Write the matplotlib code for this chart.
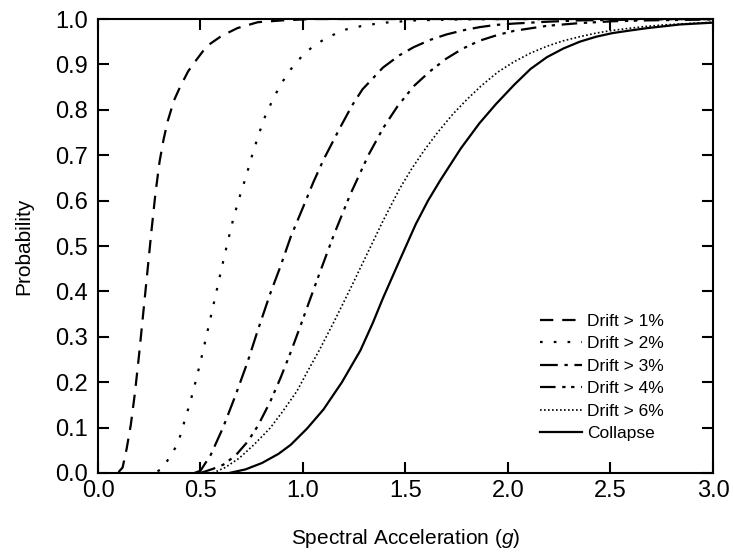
import numpy as np
import matplotlib
matplotlib.use('Agg')
import matplotlib.pyplot as plt

plt.rcParams['font.family'] = ['Liberation Sans', 'DejaVu Sans']
plt.rcParams['mathtext.fontset'] = 'custom'
plt.rcParams['mathtext.it'] = 'Liberation Sans:italic'
plt.rcParams['mathtext.rm'] = 'Liberation Sans'

# values (Sa in g, probability of exceedance)
sa_d1 = [0.10, 0.12, 0.14, 0.16, 0.18, 0.20, 0.22, 0.24, 0.26, 0.28, 0.30, 0.32, 0.34, 0.37, 0.40,
         0.44, 0.48, 0.53, 0.60, 0.68, 0.78, 0.90, 1.05, 3.00]
p_d1 = [0.002, 0.012, 0.054, 0.106, 0.176, 0.259, 0.349, 0.439, 0.53, 0.615, 0.685, 0.735, 0.775, 0.82, 0.85,
        0.885, 0.91, 0.94, 0.962, 0.98, 0.993, 0.997, 1.0, 1.0]

sa_d2 = [0.29, 0.31, 0.35, 0.39, 0.42, 0.45, 0.48, 0.51, 0.54, 0.57, 0.60, 0.63, 0.66, 0.69, 0.72, 0.75,
         0.78, 0.81, 0.85, 0.89, 0.94, 1.00, 1.05, 1.12, 1.21, 1.30, 1.40, 1.55, 1.75, 2.00, 3.00]
p_d2 = [0.004, 0.008, 0.035, 0.065, 0.111, 0.156, 0.208, 0.264, 0.324, 0.384, 0.445, 0.504, 0.56, 0.607, 0.65, 0.697,
        0.74, 0.78, 0.82, 0.855, 0.889, 0.921, 0.94, 0.96, 0.977, 0.986, 0.992, 0.997, 0.999, 1.0, 1.0]

sa_d3 = [0.47, 0.50, 0.55, 0.61, 0.67, 0.73, 0.78, 0.84, 0.89, 0.94, 1.00, 1.05, 1.10, 1.18, 1.24, 1.29,
         1.39, 1.47, 1.54, 1.62, 1.70, 1.78, 1.86, 1.94, 2.03, 2.19, 2.35, 2.51, 2.68, 2.84, 3.00]
p_d3 = [0.0, 0.005, 0.04, 0.10, 0.17, 0.245, 0.315, 0.395, 0.455, 0.52, 0.585, 0.64, 0.69, 0.76, 0.81, 0.845,
        0.893, 0.92, 0.938, 0.954, 0.966, 0.975, 0.982, 0.987, 0.99, 0.994, 0.997, 0.998, 0.999, 1.0, 1.0]

sa_d4 = [0.50, 0.56, 0.61, 0.67, 0.73, 0.78, 0.84, 0.89, 0.94, 0.99, 1.03, 1.08, 1.15, 1.23, 1.32, 1.39,
         1.46, 1.54, 1.62, 1.70, 1.78, 1.86, 1.95, 2.03, 2.19, 2.35, 2.51, 2.68, 2.84, 3.00]
p_d4 = [0.0, 0.009, 0.018, 0.038, 0.069, 0.104, 0.157, 0.209, 0.266, 0.327, 0.377, 0.439, 0.524, 0.613, 0.701, 0.759,
        0.807, 0.852, 0.885, 0.913, 0.935, 0.952, 0.965, 0.974, 0.985, 0.991, 0.995, 0.997, 0.998, 0.999]

sa_d6 = [0.56, 0.62, 0.69, 0.76, 0.84, 0.90, 0.97, 1.02, 1.08, 1.15, 1.23, 1.31, 1.39, 1.47, 1.53, 1.59,
         1.66, 1.73, 1.80, 1.87, 1.95, 2.03, 2.11, 2.19, 2.27, 2.35, 2.43, 2.51, 2.60, 2.68, 2.76, 2.84, 2.92, 3.00]
p_d6 = [0.0, 0.012, 0.033, 0.062, 0.099, 0.135, 0.18, 0.222, 0.271, 0.332, 0.405, 0.48, 0.555, 0.625, 0.67, 0.71,
        0.752, 0.79, 0.823, 0.853, 0.883, 0.906, 0.925, 0.94, 0.952, 0.961, 0.969, 0.975, 0.98, 0.984, 0.987, 0.989, 0.991, 0.993]

sa_col = [0.64, 0.72, 0.80, 0.88, 0.94, 1.02, 1.10, 1.19, 1.28, 1.34, 1.39, 1.47, 1.55, 1.61, 1.67, 1.72,
          1.77, 1.86, 1.94, 2.03, 2.11, 2.19, 2.27, 2.35, 2.43, 2.51, 2.60, 2.68, 2.76, 2.84, 2.92, 3.00]
p_col = [0.0, 0.008, 0.022, 0.042, 0.062, 0.098, 0.14, 0.20, 0.27, 0.33, 0.385, 0.467, 0.548, 0.60, 0.645, 0.68,
         0.715, 0.77, 0.812, 0.855, 0.89, 0.916, 0.935, 0.95, 0.961, 0.969, 0.975, 0.98, 0.984, 0.988, 0.99, 0.992]

labels = ['Drift > 1%', 'Drift > 2%', 'Drift > 3%', 'Drift > 4%', 'Drift > 6%', 'Collapse']

fig = plt.figure(figsize=(7.33, 5.56), dpi=100)
ax = fig.add_axes([0.1337, 0.1493, 0.839, 0.8165])

ax.plot(sa_d1, p_d1, color='black', lw=1.6, dashes=(6, 4), label=labels[0])
ax.plot(sa_d2, p_d2, color='black', lw=1.6, dashes=(1.2, 5), label=labels[1])
ax.plot(sa_d3, p_d3, color='black', lw=1.6, dashes=(8, 3, 1.5, 3), label=labels[2])
ax.plot(sa_d4, p_d4, color='black', lw=1.6, dashes=(7, 3, 1.5, 2.5, 1.5, 3), label=labels[3])
ax.plot(sa_d6, p_d6, color='black', lw=1.2, dashes=(1, 1.4), label=labels[4])
ax.plot(sa_col, p_col, color='black', lw=1.6, label=labels[5])

ax.set_xlim(0, 3)
ax.set_ylim(0, 1)
ax.set_xticks(np.arange(0, 3.01, 0.5))
ax.set_yticks(np.arange(0, 1.01, 0.1))
ax.xaxis.set_major_formatter(matplotlib.ticker.FormatStrFormatter('%.1f'))
ax.yaxis.set_major_formatter(matplotlib.ticker.FormatStrFormatter('%.1f'))
ax.tick_params(direction='in', length=8, width=1.5, top=True, right=True,
               labelsize=17)
ax.tick_params(axis='x', pad=5)
ax.tick_params(axis='y', pad=7)
for s in ax.spines.values():
    s.set_linewidth(1.5)

ax.set_xlabel('Spectral Acceleration ($\\mathit{g}$)', fontsize=15, labelpad=18)
ax.set_ylabel('Probability', fontsize=15, labelpad=16)

ax.legend(loc='lower right', bbox_to_anchor=(0.92, 0.07), frameon=False,
          fontsize=12.5, handlelength=2.4, handletextpad=0.3, labelspacing=0.42,
          borderpad=0, borderaxespad=0)

plt.savefig('out.png', dpi=100)
